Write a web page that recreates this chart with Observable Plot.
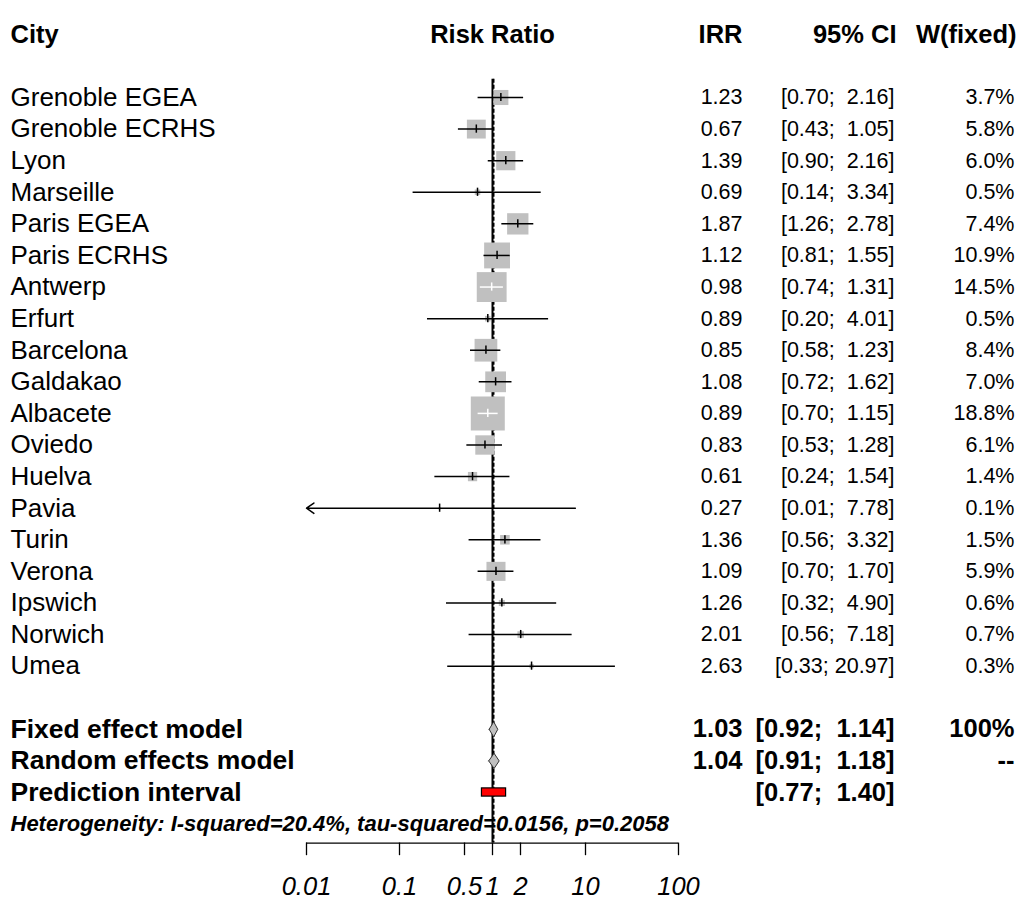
<!DOCTYPE html>
<html>
<head>
<meta charset="utf-8">
<script src="https://cdn.jsdelivr.net/npm/d3@7"></script>
<script src="https://cdn.jsdelivr.net/npm/@observablehq/plot@0.6"></script>
<style>
  html, body { margin: 0; padding: 0; background: #fff; }
  svg text { white-space: pre; }
</style>
</head>
<body>
<div id="chart"></div>
<script>
// ---------- data ----------
const cities = ["Grenoble EGEA","Grenoble ECRHS","Lyon","Marseille","Paris EGEA","Paris ECRHS","Antwerp","Erfurt","Barcelona","Galdakao","Albacete","Oviedo","Huelva","Pavia","Turin","Verona","Ipswich","Norwich","Umea"];
const irr    = [1.23,0.67,1.39,0.69,1.87,1.12,0.98,0.89,0.85,1.08,0.89,0.83,0.61,0.27,1.36,1.09,1.26,2.01,2.63];
const lower  = [0.70,0.43,0.90,0.14,1.26,0.81,0.74,0.20,0.58,0.72,0.70,0.53,0.24,0.01,0.56,0.70,0.32,0.56,0.33];
const upper  = [2.16,1.05,2.16,3.34,2.78,1.55,1.31,4.01,1.23,1.62,1.15,1.28,1.54,7.78,3.32,1.70,4.90,7.18,20.97];
const weight = [3.7,5.8,6.0,0.5,7.4,10.9,14.5,0.5,8.4,7.0,18.8,6.1,1.4,0.1,1.5,5.9,0.6,0.7,0.3];

const modelNames  = ["Fixed effect model","Random effects model"];
const modelEst    = [1.03,1.04];
const modelLower  = [0.92,0.91];
const modelUpper  = [1.14,1.18];
const modelWeight = ["100%","--"];

const predName  = "Prediction interval";
const predLower = 0.77;
const predUpper = 1.40;

const heterogeneity = "Heterogeneity: I-squared=20.4%, tau-squared=0.0156, p=0.2058";

const headers = ["City","Risk Ratio","IRR","95% CI","W(fixed)"];
const tickValues = [0.01,0.1,0.5,1,2,10,100];
const tickLabels = ["0.01","0.1","0.5","1","2","10","100"];

// ---------- layout ----------
const W = 1019, H = 900;
const FONT = "Liberation Sans, Arial, Helvetica, sans-serif";
const xDomain = [0.01, 100], xRange = [306, 678];
const yDomain = [0, 22], yRange = [97, 792];
const HEADER_ROW = -1.98, MODEL_ROW0 = 20, PRED_ROW = 22, HET_ROW = 23;
const LINE_TOP = -0.58, AXIS_ROW = 23.6, TICK_END = 24, TICKLABEL_ROW = 25.0;
const COL_LABEL = 10, COL_IRR = 742, COL_CI = 894, COL_W = 1014, COL_RR = 492;
const BOX_MAX = 34; // side of the largest square (px)

const fmtCI = (lo, hi) => `[${lo.toFixed(2)}; ${hi.toFixed(2).padStart(5, " ")}]`;

const xs = d3.scaleLog(xDomain, xRange);
const studies = cities.map((c, i) => {
  const side = BOX_MAX * Math.sqrt(weight[i] / d3.max(weight));
  const inside = xs(lower[i]) > xs(irr[i]) - side / 2 && xs(upper[i]) < xs(irr[i]) + side / 2;
  return {
    city: c, row: i, est: irr[i], lo: lower[i], hi: upper[i], w: weight[i],
    clipped: lower[i] <= xDomain[0],
    ciColor: inside ? "white" : "black",
    irrText: irr[i].toFixed(2),
    ciText: fmtCI(lower[i], upper[i]),
    wText: weight[i].toFixed(1) + "%"
  };
});
const models = modelNames.map((n, i) => ({
  name: n, row: MODEL_ROW0 + i, est: modelEst[i], lo: modelLower[i], hi: modelUpper[i],
  irrText: modelEst[i].toFixed(2), ciText: fmtCI(modelLower[i], modelUpper[i]), wText: modelWeight[i]
}));
const DH = 0.24; // diamond half-height in rows
const diamondPts = models.flatMap((m, k) => [
  {k, x: m.lo, y: m.row}, {k, x: m.est, y: m.row - DH}, {k, x: m.hi, y: m.row},
  {k, x: m.est, y: m.row + DH}, {k, x: m.lo, y: m.row}
]);
const pred = [{lo: predLower, hi: predUpper, row: PRED_ROW}];
const ticks = tickValues.map((v, i) => ({v, label: tickLabels[i]}));

const headerCols = [
  {t: headers[0], x: COL_LABEL, a: "start"},
  {t: headers[1], x: COL_RR, a: "middle"},
  {t: headers[2], x: COL_IRR, a: "end"},
  {t: headers[3], x: COL_CI + 2, a: "end"},
  {t: headers[4], x: COL_W + 2, a: "end"}
];

const colText = (data, field, col, anchor, opts = {}) =>
  Plot.text(data, {frameAnchor: "left", dx: col, y: "row", text: field, textAnchor: anchor,
    fontSize: 21.5, fill: "black", ...opts});

const chart = Plot.plot({
  width: W, height: H,
  marginLeft: 0, marginRight: 0, marginTop: 0, marginBottom: 0,
  style: {fontFamily: FONT, background: "white", overflow: "visible"},
  x: {type: "log", domain: xDomain, range: xRange, axis: null},
  y: {domain: yDomain, range: yRange, axis: null},
  r: {type: "sqrt", domain: [0, d3.max(weight)], range: [0, BOX_MAX / Math.sqrt(Math.PI)]},
  marks: [
    // reference lines
    Plot.ruleX([1], {y1: LINE_TOP, y2: AXIS_ROW, stroke: "black", strokeWidth: 2}),
    Plot.ruleX([modelEst[0]], {y1: LINE_TOP, y2: AXIS_ROW, stroke: "black", strokeWidth: 1.6, strokeDasharray: "4,2"}),
    // study squares
    Plot.dot(studies, {x: "est", y: "row", r: "w", symbol: "square", fill: "#c0c0c0", stroke: "none"}),
    // CIs
    Plot.ruleY(studies.filter(d => !d.clipped), {y: "row", x1: "lo", x2: "hi", stroke: "ciColor", strokeWidth: 1.5}),
    Plot.arrow(studies.filter(d => d.clipped), {x1: "hi", x2: () => xDomain[0], y1: "row", y2: "row",
      stroke: "black", strokeWidth: 1.5, headLength: 9, headAngle: 70}),
    Plot.ruleX(studies, {x: "est", y1: d => d.row - 0.13, y2: d => d.row + 0.13, stroke: "ciColor", strokeWidth: 1.5}),
    // diamonds
    Plot.line(diamondPts, {x: "x", y: "y", z: "k", fill: "#c0c0c0", stroke: "#333", strokeWidth: 1, curve: "linear"}),
    // prediction interval
    Plot.rect(pred, {x1: "lo", x2: "hi", y1: d => d.row - 0.13, y2: d => d.row + 0.13, fill: "red", stroke: "black", strokeWidth: 1.2}),
    // axis
    Plot.ruleY([AXIS_ROW], {x1: () => xDomain[0], x2: () => xDomain[1], stroke: "black", strokeWidth: 1.3}),
    Plot.ruleX(ticks, {x: "v", y1: AXIS_ROW, y2: TICK_END, stroke: "black", strokeWidth: 1.3}),
    Plot.text(ticks, {x: "v", y: () => TICKLABEL_ROW, text: "label", fontSize: 25.5, fontStyle: "italic", fill: "black"}),
    // headers
    ...headerCols.map(h => Plot.text([h], {frameAnchor: "left", dx: h.x, y: () => HEADER_ROW, text: "t",
      textAnchor: h.a, fontSize: 25.5, fontWeight: "bold", fill: "black"})),
    // study text
    colText(studies, "city", COL_LABEL, "start", {fontSize: 26}),
    colText(studies, "irrText", COL_IRR, "end"),
    colText(studies, "ciText", COL_CI, "end"),
    colText(studies, "wText", COL_W, "end"),
    // model text
    colText(models, "name", COL_LABEL, "start", {fontSize: 26.5, fontWeight: "bold"}),
    colText(models, "irrText", COL_IRR, "end", {fontSize: 25.5, fontWeight: "bold"}),
    colText(models, "ciText", COL_CI, "end", {fontSize: 25.5, fontWeight: "bold"}),
    colText(models, "wText", COL_W, "end", {fontSize: 25.5, fontWeight: "bold"}),
    colText(pred, () => predName, COL_LABEL, "start", {fontSize: 26.5, fontWeight: "bold"}),
    colText(pred, d => fmtCI(d.lo, d.hi), COL_CI, "end", {fontSize: 25.5, fontWeight: "bold"}),
    Plot.text([heterogeneity], {frameAnchor: "left", dx: COL_LABEL, y: () => HET_ROW, text: d => d,
      textAnchor: "start", fontSize: 22, fontWeight: "bold", fontStyle: "italic", fill: "black"})
  ]
});
document.getElementById("chart").appendChild(chart);
</script>
</body>
</html>
